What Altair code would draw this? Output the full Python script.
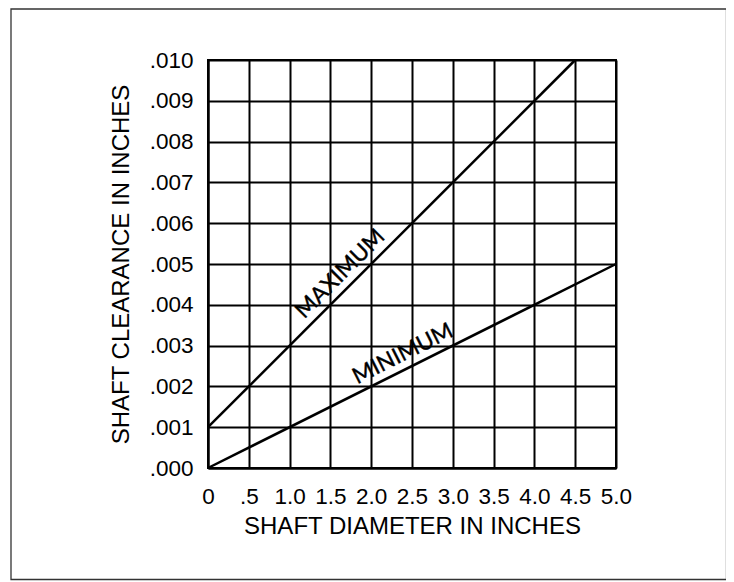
import altair as alt
import pandas as pd

# ---- data ----
max_x = [0.0, 4.5]
max_y = [0.001, 0.010]
min_x = [0.0, 5.0]
min_y = [0.000, 0.005]

x_ticks = [0.0, 0.5, 1.0, 1.5, 2.0, 2.5, 3.0, 3.5, 4.0, 4.5, 5.0]
x_tick_labels = ["0", ".5", "1.0", "1.5", "2.0", "2.5", "3.0", "3.5", "4.0", "4.5", "5.0"]
y_ticks = [0.000, 0.001, 0.002, 0.003, 0.004, 0.005, 0.006, 0.007, 0.008, 0.009, 0.010]
y_tick_labels = [".000", ".001", ".002", ".003", ".004", ".005", ".006", ".007", ".008", ".009", ".010"]

label_text = ["MAXIMUM", "MINIMUM"]
label_x = [1.75, 2.47]
label_y = [0.0045, 0.00247]
label_angle = [315.0, 333.43]

x_title = "SHAFT DIAMETER IN INCHES"
y_title = "SHAFT CLEARANCE IN INCHES"

# ---- build tables ----
lines_df = pd.DataFrame({
    "x": max_x + min_x,
    "y": max_y + min_y,
    "series": ["MAXIMUM"] * len(max_x) + ["MINIMUM"] * len(min_x),
})
labels_df = pd.DataFrame({"text": label_text, "x": label_x, "y": label_y, "angle": label_angle})

def js_list(vals):
    return "[" + ",".join(repr(v) if not isinstance(v, str) else "'" + v + "'" for v in vals) + "]"

x_expr = f"{js_list(x_tick_labels)}[indexof({js_list(x_ticks)}, datum.value)]"
y_expr = f"{js_list(y_tick_labels)}[indexof({js_list(y_ticks)}, datum.value)]"

x_scale = alt.Scale(domain=[0, 5], nice=False, zero=False)
y_scale = alt.Scale(domain=[0, 0.010], nice=False, zero=False)

x_axis = alt.Axis(
    values=x_ticks, labelExpr=x_expr, title=x_title, grid=True, ticks=False, tickSize=0,
    labelPadding=17, labelFontSize=22.5, labelAngle=0, titleFontSize=24,
    titleBaseline="alphabetic", titleY=65, labelOverlap=False, labelFlush=False,
)
y_axis = alt.Axis(
    values=y_ticks, labelExpr=y_expr, title=y_title, grid=True, ticks=False, tickSize=0,
    labelPadding=15, labelFontSize=22.5, titleFontSize=24, titleAngle=270,
    titleBaseline="alphabetic", titleX=-80, titleY=204, titleAlign="center",
    labelOverlap=False, labelFlush=False,
)

lines = alt.Chart(lines_df).mark_line(color="black", strokeWidth=2.5).encode(
    x=alt.X("x:Q", scale=x_scale, axis=x_axis),
    y=alt.Y("y:Q", scale=y_scale, axis=y_axis),
    detail="series:N",
)

labels = alt.Chart(labels_df).mark_text(
    font="Lato", fontSize=22.5, color="black", align="center", baseline="alphabetic", dy=-8,
    stroke="black", strokeWidth=0.4,
).encode(
    x=alt.X("x:Q", scale=x_scale),
    y=alt.Y("y:Q", scale=y_scale),
    text="text:N",
    angle=alt.Angle("angle:Q", scale=None),
)

frame = alt.Chart(pd.DataFrame({"a": [0]})).mark_rect(
    fillOpacity=0, stroke="#333333", strokeWidth=1.3,
).encode(
    x=alt.value(-197), x2=alt.value(518.5), y=alt.value(-51), y2=alt.value(519.5),
)

chart = alt.layer(lines, labels, frame).properties(
    width=408, height=408,
    autosize=alt.AutoSizeParams(type="none"),
    padding={"left": 200, "top": 52, "right": 110, "bottom": 114},
).configure_axis(
    gridColor="black", gridWidth=2, gridOpacity=1,
    domainColor="black", domainWidth=2,
    labelColor="black", titleColor="black",
    labelFont="Liberation Sans", titleFont="Liberation Sans", titleFontWeight="normal",
).configure_view(stroke="black", strokeWidth=2)

chart.save("out.html", embed_options={"renderer": "svg", "actions": False})
